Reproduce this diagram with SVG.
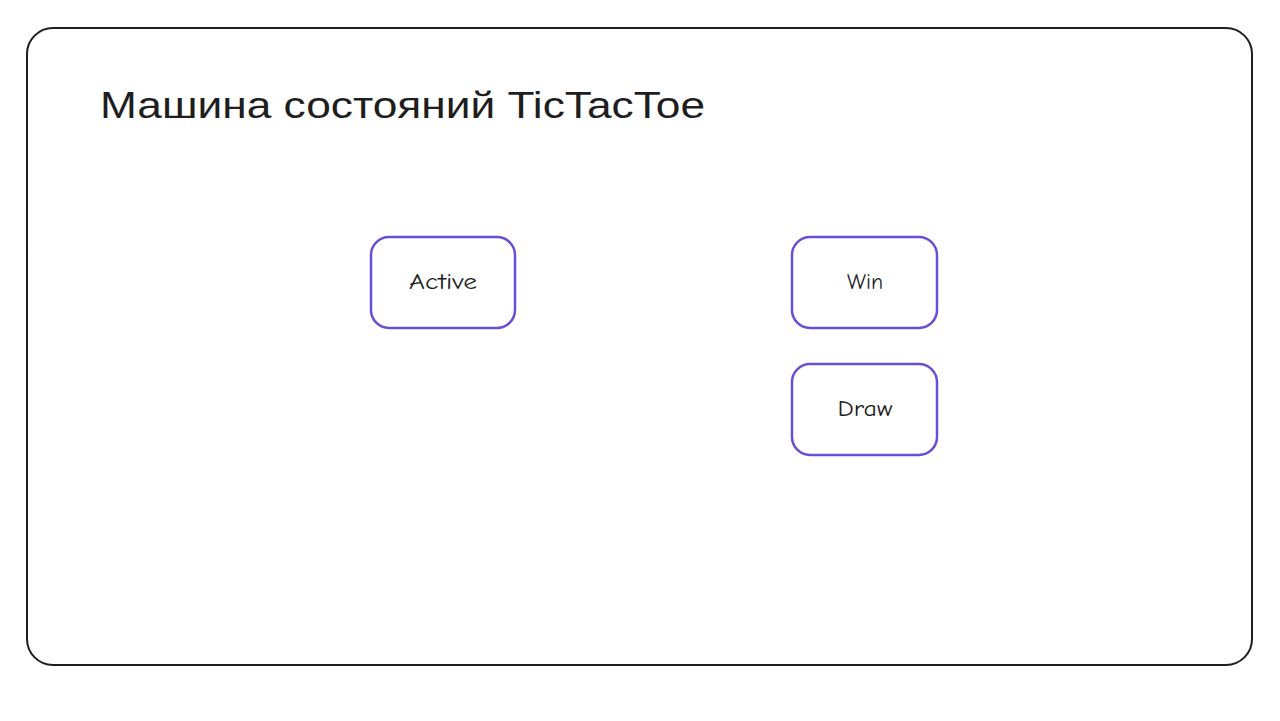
<svg xmlns="http://www.w3.org/2000/svg" width="1280" height="721" viewBox="0 0 1280 721">
<style>
.frame{fill:#ffffff;stroke:#1e1e1e;stroke-width:2}
.node rect{fill:#ffffff;stroke:#6a4fd6;stroke-width:2.5}
.node text{font-family:"Comic Neue","Liberation Sans",sans-serif;font-size:22px;fill:#1e1e1e;text-anchor:middle;dominant-baseline:central}
.title{font-family:"Liberation Sans",sans-serif;font-size:37px;fill:#1e1e1e}
</style>
<rect width="1280" height="721" fill="#ffffff"/>
<rect class="frame" x="27" y="28" width="1225" height="637" rx="26" ry="26"/>
<text class="title" x="100" y="118" textLength="605" lengthAdjust="spacingAndGlyphs">Машина состояний TicTacToe</text>
<g id="connectors"></g>
<g id="node-active" class="node">
<rect x="371" y="237" width="144" height="91" rx="18" ry="18"/>
<text x="443" y="282" textLength="68" lengthAdjust="spacingAndGlyphs">Active</text>
</g>
<g id="node-win" class="node">
<rect x="792" y="237" width="145" height="91" rx="18" ry="18"/>
<text x="865" y="282" textLength="36" lengthAdjust="spacingAndGlyphs">Win</text>
</g>
<g id="node-draw" class="node">
<rect x="792" y="364" width="145" height="91" rx="18" ry="18"/>
<text x="865" y="409" textLength="55" lengthAdjust="spacingAndGlyphs">Draw</text>
</g>
</svg>
